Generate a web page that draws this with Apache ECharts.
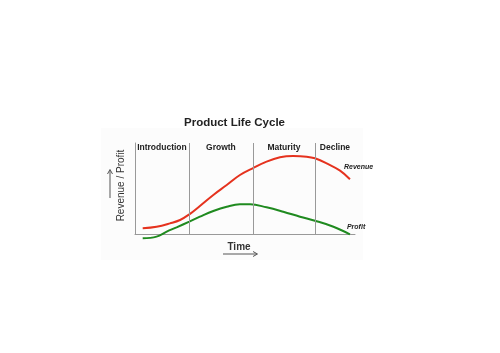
<!DOCTYPE html>
<html><head><meta charset="utf-8">
<script src="https://cdn.jsdelivr.net/npm/echarts@6/dist/echarts.min.js"></script>
<style>html,body{margin:0;padding:0;background:#fff}#c{width:500px;height:353px}</style>
</head><body><div id="c"></div>
<script>
const titleText = 'Product Life Cycle';
const stages = ['Introduction', 'Growth', 'Maturity', 'Decline'];
const stageBounds = [0, 24.5, 53.6, 81.8, 100];
const revenueX = [3.5, 9.8, 15.9, 20.5, 24.7, 29.5, 35.6, 41.7, 47.7, 53.5, 59.8, 65.9, 71.9, 78, 81.8, 87.1, 93.2, 97.7];
const revenueY = [6.3, 8.0, 11.7, 15.4, 21.6, 30.8, 42.9, 53.8, 64.8, 72.2, 79.5, 84.3, 85.7, 85, 83.2, 77.7, 69.6, 60.1];
const profitX = [3.5, 9.8, 14.4, 18.9, 24.7, 29.5, 35.6, 41.7, 47.7, 52.3, 59.8, 67.4, 75, 81.8, 90.2, 97.7];
const profitY = [-4.8, -2.9, 2.6, 7.3, 13.6, 19, 25.3, 30, 32.6, 32.6, 29.3, 24.5, 19, 14.6, 8, -0.3];

const chart = echarts.init(document.getElementById('c'));
const zip = (xs, ys) => xs.map((x, i) => [x, ys[i]]);
const F = 'Liberation Sans, DejaVu Sans, sans-serif';

chart.setOption({
  animation: false,
  backgroundColor: '#fff',
  title: {
    text: titleText, left: 179, top: 112,
    textStyle: { fontSize: 11.5, fontWeight: 'bold', color: '#222', fontFamily: F }
  },
  grid: { left: 135, right: 145, top: 143, bottom: 119 },
  xAxis: {
    type: 'value', min: 0, max: 100,
    axisLine: { show: true, lineStyle: { color: '#999', width: 1 } },
    axisTick: { show: false }, axisLabel: { show: false }, splitLine: { show: false },
    name: 'Time', nameLocation: 'middle', nameGap: 8,
    nameTextStyle: { fontSize: 10, fontWeight: 'bold', color: '#333', fontFamily: F, padding: [0, 12, 0, 0] }
  },
  yAxis: {
    type: 'value', min: 0, max: 100,
    axisLine: { show: true, lineStyle: { color: '#999', width: 1 } },
    axisTick: { show: false }, axisLabel: { show: false }, splitLine: { show: false },
    name: 'Revenue / Profit', nameLocation: 'middle', nameGap: 9, nameRotate: 90,
    nameTextStyle: { fontSize: 10, color: '#333', fontFamily: F, padding: [0, 0, 0, 6] }
  },
  graphic: [
    { type: 'rect', z: -10, shape: { x: 101, y: 128, width: 262, height: 132 }, style: { fill: '#fcfcfc' } },
    { type: 'line', shape: { x1: 110, y1: 198, x2: 110, y2: 171 }, style: { stroke: '#555', lineWidth: 1 } },
    { type: 'polyline', shape: { points: [[107.5, 174], [110, 169.5], [112.5, 174]] }, style: { stroke: '#555', fill: null, lineWidth: 1 } },
    { type: 'line', shape: { x1: 223, y1: 254, x2: 256, y2: 254 }, style: { stroke: '#555', lineWidth: 1 } },
    { type: 'polyline', shape: { points: [[253, 251.5], [257.5, 254], [253, 256.5]] }, style: { stroke: '#555', fill: null, lineWidth: 1 } }
  ],
  series: [
    {
      name: 'Revenue', type: 'line', smooth: 0.4, symbol: 'none', clip: false,
      data: zip(revenueX, revenueY),
      lineStyle: { color: '#e5321e', width: 2 },
      endLabel: { show: true, formatter: 'Revenue', offset: [-14, -12],
        fontSize: 7, fontStyle: 'italic', fontWeight: 'bold', color: '#222', fontFamily: F },
      markLine: {
        silent: true, symbol: 'none', label: { show: false },
        lineStyle: { color: '#999', width: 1, type: 'solid' },
        data: stageBounds.slice(1, 4).map(v => ({ xAxis: v }))
      },
      markArea: {
        silent: true, itemStyle: { color: 'rgba(0,0,0,0)' },
        label: { show: true, position: 'insideTop', distance: 0, fontSize: 8.5, fontWeight: 'bold', color: '#222', fontFamily: F },
        data: stages.map((s, i) => [{ name: s, xAxis: stageBounds[i] }, { xAxis: stageBounds[i + 1] }])
      }
    },
    {
      name: 'Profit', type: 'line', smooth: 0.4, symbol: 'none', clip: false,
      data: zip(profitX, profitY),
      lineStyle: { color: '#1f8a1f', width: 2 },
      endLabel: { show: true, formatter: 'Profit', offset: [-11, -7],
        fontSize: 7, fontStyle: 'italic', fontWeight: 'bold', color: '#222', fontFamily: F }
    }
  ]
});
</script></body></html>
